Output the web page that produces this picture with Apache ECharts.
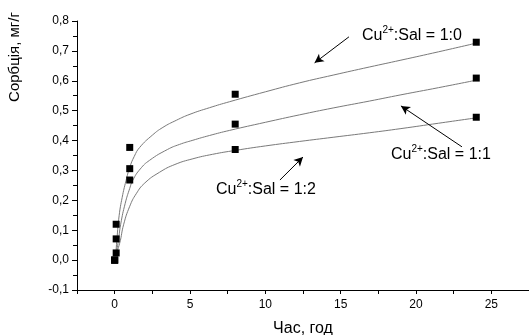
<!DOCTYPE html>
<html>
<head>
<meta charset="utf-8">
<script src="https://cdn.jsdelivr.net/npm/echarts@6/dist/echarts.min.js"></script>
<style>html,body{margin:0;padding:0;background:#fff;}#c{width:529px;height:335px;}</style>
</head>
<body>
<div id="c"></div>
<script>
// Measured points (time, h; sorption, mg/g)
const timeH = [0, 0.1, 1, 8, 24];
const sorb10 = [0, 0.12, 0.377, 0.555, 0.729];
const sorb11 = [0, 0.071, 0.306, 0.455, 0.609];
const sorb12 = [0, 0.024, 0.268, 0.370, 0.478];

// Fitted curves
const fitT10 = [0.08, 0.15, 0.3, 0.5, 0.75, 1, 1.3, 1.66, 2.5, 3.2, 4.1, 5, 6.3, 7.63, 10, 12.27, 14.5, 16.9, 19, 21.5, 24];
const fitV10 = [0.02, 0.07, 0.15, 0.21, 0.265, 0.31, 0.347, 0.377, 0.418, 0.444, 0.468, 0.488, 0.51, 0.53, 0.563, 0.593, 0.619, 0.646, 0.669, 0.697, 0.726];
const fitT11 = [0.08, 0.22, 0.4, 0.7, 1, 1.21, 1.7, 2.32, 3.5, 4.3, 5.19, 6.3, 7.63, 10, 12.27, 14.5, 16.9, 19, 21.5, 24];
const fitV11 = [0.02, 0.056, 0.12, 0.19, 0.24, 0.268, 0.305, 0.334, 0.37, 0.387, 0.401, 0.417, 0.434, 0.461, 0.486, 0.509, 0.532, 0.553, 0.577, 0.602];
const fitT12 = [0.08, 0.33, 0.6, 1, 1.43, 2.0, 2.98, 4, 5.19, 6.5, 8, 10, 12.27, 14.5, 16.9, 19, 21.5, 24];
const fitV12 = [0.02, 0.056, 0.12, 0.18, 0.222, 0.258, 0.294, 0.32, 0.339, 0.354, 0.367, 0.382, 0.397, 0.411, 0.426, 0.44, 0.458, 0.476];

// Annotations: label, arrow tail, arrow head (data coords)
const annLabels = ['1:0', '1:1', '1:2'];
const arrowTail = [[15.55, 0.747], [23.05, 0.379], [10.97, 0.268]];
const arrowHead = [[13.27, 0.66], [19.0, 0.516], [12.5, 0.345]];

const xTickLabels = ['0', '5', '10', '15', '20', '25'];
const xTitle = 'Час, год';
const yTitle = 'Сорбція, мг/г';

const FONT = '"Liberation Sans", Arial, sans-serif';
const zip = (a, b) => a.map((v, i) => [v, b[i]]);

const chart = echarts.init(document.getElementById('c'), null, {renderer: 'canvas'});

function fitSeries(t, v) {
  return {type: 'line', data: zip(t, v), smooth: 0.5, showSymbol: false, symbol: 'none',
    lineStyle: {color: '#7a7a7a', width: 1}, silent: true, z: 2};
}
function ptSeries(name, v) {
  return {name, type: 'scatter', data: zip(timeH, v), symbol: 'rect', symbolSize: 7,
    itemStyle: {color: '#000', opacity: 1}, z: 5};
}

const option = {
  animation: false,
  backgroundColor: '#fff',
  grid: {left: 77, right: 0, top: 21, bottom: 45, containLabel: false, outerBoundsMode: 'none'},
  xAxis: {
    type: 'value', min: -2.5, max: 27.5, interval: 2.5,
    name: xTitle, nameLocation: 'middle', nameGap: 31,
    nameTextStyle: {fontFamily: FONT, fontSize: 16, color: '#000'},
    axisLine: {show: true, onZero: false, lineStyle: {color: '#000', width: 1}},
    axisTick: {show: true, inside: false, length: 4, lineStyle: {color: '#000'}},
    axisLabel: {margin: 9, fontFamily: FONT, fontSize: 12, color: '#000',
      formatter: v => { const s = String(Math.round(v * 10) / 10); return xTickLabels.includes(s) ? s : ''; }},
    splitLine: {show: false}
  },
  yAxis: {
    type: 'value', min: -0.1, max: 0.8, interval: 0.1,
    axisLine: {show: true, onZero: false, lineStyle: {color: '#000', width: 1}},
    axisTick: {show: true, inside: false, length: 5, lineStyle: {color: '#000'}},
    minorTick: {show: true, splitNumber: 2, length: 4, lineStyle: {color: '#000'}},
    axisLabel: {margin: 8, fontFamily: FONT, fontSize: 12, color: '#000',
      formatter: v => v.toFixed(1).replace('.', ',')},
    splitLine: {show: false}
  },
  series: [
    fitSeries(fitT10, fitV10), fitSeries(fitT11, fitV11), fitSeries(fitT12, fitV12),
    ptSeries('1:0', sorb10), ptSeries('1:1', sorb11), ptSeries('1:2', sorb12),
    {
      type: 'line', data: [], silent: true,
      markLine: {
        silent: true, symbol: ['none', 'arrow'], symbolSize: [7, 9],
        lineStyle: {color: '#000', width: 1, type: 'solid'}, label: {show: false},
        data: arrowTail.map((p, i) => [{coord: p}, {coord: arrowHead[i]}])
      }
    }
  ]
};
chart.setOption(option);

const annPos = [[362, 25], [391, 144], [216, 179]];
const rich = {
  a: {fontFamily: FONT, fontSize: 16, color: '#000', lineHeight: 19, verticalAlign: 'bottom'},
  s: {fontFamily: FONT, fontSize: 10, color: '#000', lineHeight: 19, verticalAlign: 'top', padding: [0, 0, 8, 0]}
};
chart.setOption({
  graphic: [
    {type: 'text', x: 15, y: 57, rotation: Math.PI / 2,
      style: {text: yTitle, fontFamily: FONT, fontSize: 15, fill: '#000', align: 'center', verticalAlign: 'middle'}},
    ...annLabels.map((l, i) => ({
      type: 'text', x: annPos[i][0], y: annPos[i][1],
      style: {text: '{a|Cu}{s|2+}{a|:Sal = ' + l + '}', rich}
    }))
  ]
});
</script>
</body>
</html>
